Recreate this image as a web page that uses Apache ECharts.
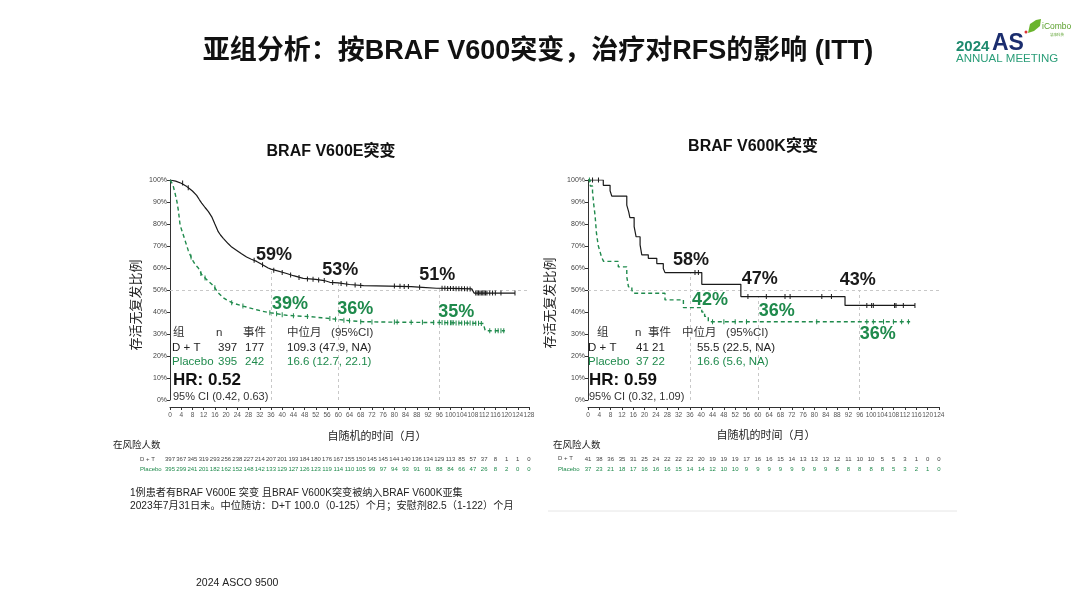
<!DOCTYPE html>
<html><head><meta charset="utf-8">
<script src="https://cdn.jsdelivr.net/npm/echarts@6/dist/echarts.min.js"></script>
<style>html,body{margin:0;padding:0;background:#fff}#c{width:1080px;height:608px}</style>
</head><body><div id="c"></div><script>
// ---------- DATA ----------
const landmarkMonths = [36, 60, 96];
// Left panel: BRAF V600E
const leftDT = [[0,100],[2,99.5],[4,98.5],[6,97],[7,96],[8,95],[9.5,93],[10.5,91],[11.3,89.5],[12.5,87.5],[13.7,85.6],[15,83],[16,80],[17.2,76.5],[18,75],[19,73.5],[20.8,71],[22,69.5],[23.8,68],[25.5,66.5],[27.3,65],[29,64],[30.9,63],[33,61.5],[35,60],[36,59.5],[38,58.8],[41.6,57.5],[44,56.5],[47.5,55.3],[52,54.8],[55,54.3],[57,53.5],[60,53.2],[64,52.5],[69,52],[78,51.8],[86,51.5],[90,51.2],[95,50.8],[100,50.7],[107.6,50.5],[108.4,48.6],[123,48.6]];
const leftPBO = [[0,100],[1,98],[1.8,94],[2.5,90],[3,86],[3.6,79.5],[4.75,75],[5.5,72],[6.5,68],[7.5,65],[8.3,63],[9,61.5],[10.1,60],[11.3,57],[12.5,55.5],[13.7,54],[15,52.5],[16,51],[17,49],[17.8,48],[19,46.5],[20.2,45.5],[22.6,44],[26,42.7],[28,42],[30.9,41],[33,40.3],[35.6,39.7],[38,39.2],[41.6,38.5],[45,38.2],[49.9,37.9],[54,37.4],[57,37],[59.4,36.7],[64,36],[68.9,35.6],[78,35.4],[86.7,35.3],[96,35.2],[104,35],[111.7,34.8],[112.4,31.5],[119.4,31.5]];
const leftDTCensor = [[4.5,98.6],[6.5,96.5],[30,63.5],[33,61.5],[37,59],[40,58],[43,56.8],[46,55.7],[49,55],[51,54.9],[53,54.6],[55,54.3],[58,53.4],[61,53],[63,52.7],[66,52.3],[68,52],[80,51.8],[82,51.7],[83.5,51.6],[85,51.6],[89,51.3],[97,50.8],[98,50.8],[99,50.7],[100,50.7],[101,50.7],[102,50.6],[103,50.6],[104,50.6],[105,50.6],[106,50.5],[107,50.5],[109,48.6],[109.5,48.6],[110,48.6],[110.5,48.6],[111,48.6],[111.5,48.6],[112,48.6],[112.5,48.6],[113,48.6],[114,48.6],[115,48.6],[116,48.6],[118,48.6],[123,48.6]];
const leftPBOCensor = [[7.5,65],[11,57.5],[12.5,55.5],[16,51],[22,44.2],[26,42.7],[35.6,39.7],[38,39.2],[40,38.8],[44,38.3],[49,37.9],[57,37],[59,36.7],[62,36.3],[64,36],[68,35.6],[72,35.5],[80,35.4],[81,35.4],[86,35.3],[90,35.3],[94,35.2],[96,35.2],[97,35.2],[98,35.1],[99,35.1],[100,35.1],[100.5,35.1],[101,35.1],[102,35],[103,35],[104,35],[105,35],[106,35],[107,35],[108,34.9],[109,34.9],[110,34.9],[111,34.8],[114,31.5],[116,31.5],[117,31.5],[118,31.5],[119,31.5]];
const leftDTPct = [59, 53, 51];
const leftPBOPct = [39, 36, 35];
const leftLandmarkTop = [59.5, 53.2, 50.8];
const leftRiskDT = [397,367,345,319,293,256,238,227,214,207,201,193,184,180,176,167,155,150,145,145,144,140,136,134,129,113,85,57,37,8,1,1,0];
const leftRiskPBO = [395,299,241,201,182,162,152,148,142,133,129,127,126,123,119,114,110,105,99,97,94,93,91,91,88,84,66,47,26,8,2,0,0];

// Right panel: BRAF V600K
const rightDT = [[0,100],[5.4,97.6],[7.8,95.1],[8.4,92.7],[13.7,88.6],[14.4,85.4],[14.8,82.9],[16.3,78.8],[17,74.2],[18.4,70.5],[19,66],[21.3,64.4],[24.3,62],[26.6,59.8],[27.2,57.9],[40.2,52.6],[54,47],[90.8,43],[115.5,43]];
const rightPBO = [[0,100],[0.8,97.3],[1.6,94.6],[2,89.2],[2.5,83.8],[3,75.7],[3.6,70.3],[4.2,67.6],[4.8,64.9],[5.5,63],[10.7,60.5],[13.7,56],[14.3,51.4],[15.5,50],[16,48.5],[27.2,45.5],[33.7,42],[40.2,40],[41.2,38],[42.5,35.6],[113.8,35.6]];
const rightDTCensor = [[1.6,100],[3.7,100],[37.8,57.9],[39,57.9],[56.5,47],[63,47],[69.6,47],[71.4,47],[82.6,47],[86,47],[98.5,43],[100.2,43],[100.8,43],[108.3,43],[108.8,43],[111.4,43],[115.5,43]];
const rightPBOCensor = [[0.5,100],[44,35.6],[48,35.6],[52,35.6],[56,35.6],[80.8,35.6],[98.5,35.6],[100.8,35.6],[104.4,35.6],[107.9,35.6],[110.8,35.6],[113.2,35.6]];
const rightDTPct = [58, 47, 43];
const rightPBOPct = [42, 36, 36];
const rightLandmarkTop = [57.9, 47, 50];
const rightRiskDT = [41,38,36,35,31,25,24,22,22,22,20,19,19,19,17,16,16,15,14,13,13,13,12,11,10,10,5,5,3,1,0,0];
const rightRiskPBO = [37,23,21,18,17,16,16,16,15,14,14,12,10,10,9,9,9,9,9,9,9,9,8,8,8,8,8,5,3,2,1,0,0];

// ---------- STYLE ----------
const FONT = "'Liberation Sans','Noto Sans CJK SC',sans-serif";
const GREEN = '#1f8a4c';
const BLACK = '#1a1a1a';
// label pixel offsets (style only)
const leftDTOff = [[3,-15],[2,-13],[-2,-13]];
const leftPBOOff = [[19,-10],[17,-12],[17,-11]];
const rightDTOff = [[1,-12],[2,-18],[-2,-25]];
const rightPBOOff = [[20,-8],[19,-10],[18,13]];

function xMain(gi, max){
  return {type:'value', gridIndex:gi, min:0, max:max, interval:4, position:'bottom', offset:7,
    axisLine:{show:true, onZero:false, lineStyle:{color:'#333', width:1}},
    axisTick:{show:true, length:3, lineStyle:{color:'#333'}},
    axisLabel:{fontSize:6.5, color:'#555', margin:5, fontFamily:FONT, showMaxLabel:true},
    splitLine:{show:false}};
}
function xRisk(gi, max, arr, off, color){
  return {type:'value', gridIndex:gi, min:0, max:max, interval:4, position:'bottom', offset:off,
    axisLine:{show:false}, axisTick:{show:false}, splitLine:{show:false},
    axisLabel:{fontSize:6, color:color, margin:3, fontFamily:FONT, showMaxLabel:true,
      formatter:v => { const i = Math.round(v/4); return arr[i] === undefined ? '' : String(arr[i]); }}};
}
function yMain(gi){
  return {type:'value', gridIndex:gi, min:0, max:100, interval:10,
    axisLine:{show:true, lineStyle:{color:'#333', width:1}},
    axisTick:{show:true, length:3, lineStyle:{color:'#333'}},
    axisLabel:{fontSize:7, color:'#444', margin:3, formatter:'{value}%', fontFamily:FONT},
    splitLine:{show:false}};
}
function labelItems(months, vals, offs){
  return months.map((m,i)=>({value:[m, vals[i]], label:{offset:offs[i]}}));
}
function panelSeries(gi, xIdx, dt, pbo, dtC, pboC, dtPct, pboPct, dtOff, pboOff, tops, xmax){
  return [
    {type:'line', xAxisIndex:xIdx, yAxisIndex:gi, data:dt, step:gi===1?'end':false, showSymbol:false, symbol:'none',
      lineStyle:{color:BLACK, width:1.2}, z:5, silent:true,
      markLine:{silent:true, symbol:'none', label:{show:false}, animation:false,
        lineStyle:{color:'#c8c8c8', type:[3,3], width:1},
        data:[[{coord:[0,50]},{coord:[xmax,50]}]].concat(landmarkMonths.map((m,i)=>[{coord:[m,0]},{coord:[m,tops[i]]}]))}},
    {type:'line', xAxisIndex:xIdx, yAxisIndex:gi, data:pbo, step:gi===1?'end':false, showSymbol:false, symbol:'none',
      lineStyle:{color:GREEN, width:1.4, type:[4,3]}, z:5, silent:true},
    {type:'scatter', xAxisIndex:xIdx, yAxisIndex:gi, data:dtC, symbol:'rect', symbolSize:[1,5], itemStyle:{color:BLACK, opacity:1}, z:6, silent:true},
    {type:'scatter', xAxisIndex:xIdx, yAxisIndex:gi, data:pboC, symbol:'rect', symbolSize:[1,5], itemStyle:{color:GREEN, opacity:1}, z:6, silent:true},
    {type:'scatter', xAxisIndex:xIdx, yAxisIndex:gi, data:labelItems(landmarkMonths, dtPct, dtOff), symbolSize:1, itemStyle:{color:'rgba(0,0,0,0)', opacity:1}, z:7, silent:true,
      label:{show:true, position:'inside', opacity:1, formatter:p=>p.value[1]+'%', fontSize:18, fontWeight:'bold', color:BLACK, fontFamily:FONT}},
    {type:'scatter', xAxisIndex:xIdx, yAxisIndex:gi, data:labelItems(landmarkMonths, pboPct, pboOff), symbolSize:1, itemStyle:{color:'rgba(0,0,0,0)', opacity:1}, z:7, silent:true,
      label:{show:true, position:'inside', opacity:1, formatter:p=>p.value[1]+'%', fontSize:18, fontWeight:'bold', color:GREEN, fontFamily:FONT}}
  ];
}

function txt(x, y, text, size, opts){
  opts = opts || {};
  return {type:'text', x:x, y:y, rotation:opts.rotation||0, silent:true, z:10,
    style:{text:text, fontSize:size, fontWeight:opts.bold?'bold':'normal', fontFamily:opts.font||FONT,
      fill:opts.color||'#222', align:opts.align||'left', textAlign:opts.align||'left',
      verticalAlign:'middle', textVerticalAlign:'middle'}};
}

const graphics = [
  txt(538, 52, '亚组分析：按BRAF V600突变，治疗对RFS的影响 (ITT)', 27, {bold:true, align:'center', color:'#111'}),
  // logo
  txt(956, 47, '2024', 15, {bold:true, color:'#1e8a6e'}),
  txt(992, 44, 'AS', 23, {bold:true, color:'#1b2d6e'}),
  txt(956, 59, 'ANNUAL MEETING', 11.5, {color:'#2a9d78'}),
  {type:'circle', shape:{cx:1026, cy:32, r:1.5}, style:{fill:'#d33'}, silent:true},
  {type:'polygon', shape:{points:[[1028,33],[1030,24],[1036,20],[1041,19],[1040,26],[1034,31]]}, style:{fill:'#6ab42d'}, silent:true},
  txt(1042, 27, 'iCombo', 8.5, {color:'#5aa02c'}),
  txt(1050, 35, '慧康科技', 3.5, {color:'#5aa02c'}),
  // panel titles
  txt(331, 152, 'BRAF V600E突变', 16, {bold:true, align:'center', color:'#111'}),
  txt(753, 147, 'BRAF V600K突变', 16, {bold:true, align:'center', color:'#111'}),
  // y names
  txt(136, 305, '存活无复发比例', 13, {align:'center', rotation:Math.PI/2, color:'#222'}),
  txt(550, 303, '存活无复发比例', 13, {align:'center', rotation:Math.PI/2, color:'#222'}),
  // x names
  txt(377, 437, '自随机的时间（月）', 11, {align:'center'}),
  txt(766, 436, '自随机的时间（月）', 11, {align:'center'}),
  // risk headers
  txt(113, 445, '在风险人数', 9.5),
  txt(140, 459, 'D + T', 6, {color:'#444'}),
  txt(140, 469, 'Placebo', 6, {color:GREEN}),
  txt(553, 445, '在风险人数', 9.5),
  txt(558, 458, 'D + T', 6, {color:'#444'}),
  txt(558, 469, 'Placebo', 6, {color:GREEN}),
  // left stats table
  txt(173, 333, '组', 11.5, {color:'#333'}),
  txt(216, 333, 'n', 11.5, {color:'#333'}),
  txt(243, 333, '事件', 11.5, {color:'#333'}),
  txt(287, 333, '中位月   (95%CI)', 11.5, {color:'#333'}),
  txt(172, 348, 'D + T', 11.5, {color:'#222'}),
  txt(218, 348, '397', 11.5, {color:'#222'}),
  txt(245, 348, '177', 11.5, {color:'#222'}),
  txt(287, 348, '109.3 (47.9, NA)', 11.5, {color:'#222'}),
  txt(172, 362, 'Placebo', 11.5, {color:GREEN}),
  txt(218, 362, '395', 11.5, {color:GREEN}),
  txt(245, 362, '242', 11.5, {color:GREEN}),
  txt(287, 362, '16.6 (12.7, 22.1)', 11.5, {color:GREEN}),
  txt(173, 380, 'HR: 0.52', 17, {bold:true, color:'#111'}),
  txt(173, 397, '95% CI (0.42, 0.63)', 11, {color:'#333'}),
  // right stats table
  txt(597, 333, '组', 11.5, {color:'#333'}),
  txt(635, 333, 'n', 11.5, {color:'#333'}),
  txt(648, 333, '事件', 11.5, {color:'#333'}),
  txt(682, 333, '中位月   (95%CI)', 11.5, {color:'#333'}),
  txt(588, 348, 'D + T', 11.5, {color:'#222'}),
  txt(636, 348, '41 21', 11.5, {color:'#222'}),
  txt(697, 348, '55.5 (22.5, NA)', 11.5, {color:'#222'}),
  txt(588, 362, 'Placebo', 11.5, {color:GREEN}),
  txt(636, 362, '37 22', 11.5, {color:GREEN}),
  txt(697, 362, '16.6 (5.6, NA)', 11.5, {color:GREEN}),
  txt(589, 380, 'HR: 0.59', 17, {bold:true, color:'#111'}),
  txt(589, 397, '95% CI (0.32, 1.09)', 11, {color:'#333'}),
  // footnotes
  txt(130, 493, '1例患者有BRAF V600E 突变 且BRAF V600K突变被纳入BRAF V600K亚集', 10.1, {color:'#222'}),
  txt(130, 506, '2023年7月31日末。中位随访：D+T 100.0（0-125）个月；安慰剂82.5（1-122）个月', 10.2, {color:'#222'}),
  txt(196, 583, '2024 ASCO 9500', 10.5, {color:'#222'}),
  {type:'line', shape:{x1:548, y1:511, x2:957, y2:511}, style:{stroke:'#e6e6e6', lineWidth:1}, silent:true}
];

const chart = echarts.init(document.getElementById('c'), null, {renderer:'canvas', width:1080, height:608});
chart.setOption({
  animation:false,
  backgroundColor:'#fff',
  textStyle:{fontFamily:FONT},
  grid:[
    {left:170, top:180, width:359, height:220},
    {left:588, top:180, width:351, height:220}
  ],
  xAxis:[
    xMain(0,128),
    xRisk(0,128,leftRiskDT,53,'#444'),
    xRisk(0,128,leftRiskPBO,63,GREEN),
    xMain(1,124),
    xRisk(1,124,rightRiskDT,53,'#444'),
    xRisk(1,124,rightRiskPBO,63,GREEN)
  ],
  yAxis:[yMain(0), yMain(1)],
  series:[].concat(
    panelSeries(0, 0, leftDT, leftPBO, leftDTCensor, leftPBOCensor, leftDTPct, leftPBOPct, leftDTOff, leftPBOOff, leftLandmarkTop, 128),
    panelSeries(1, 3, rightDT, rightPBO, rightDTCensor, rightPBOCensor, rightDTPct, rightPBOPct, rightDTOff, rightPBOOff, rightLandmarkTop, 124)
  ),
  graphic:graphics
});
</script></body></html>
